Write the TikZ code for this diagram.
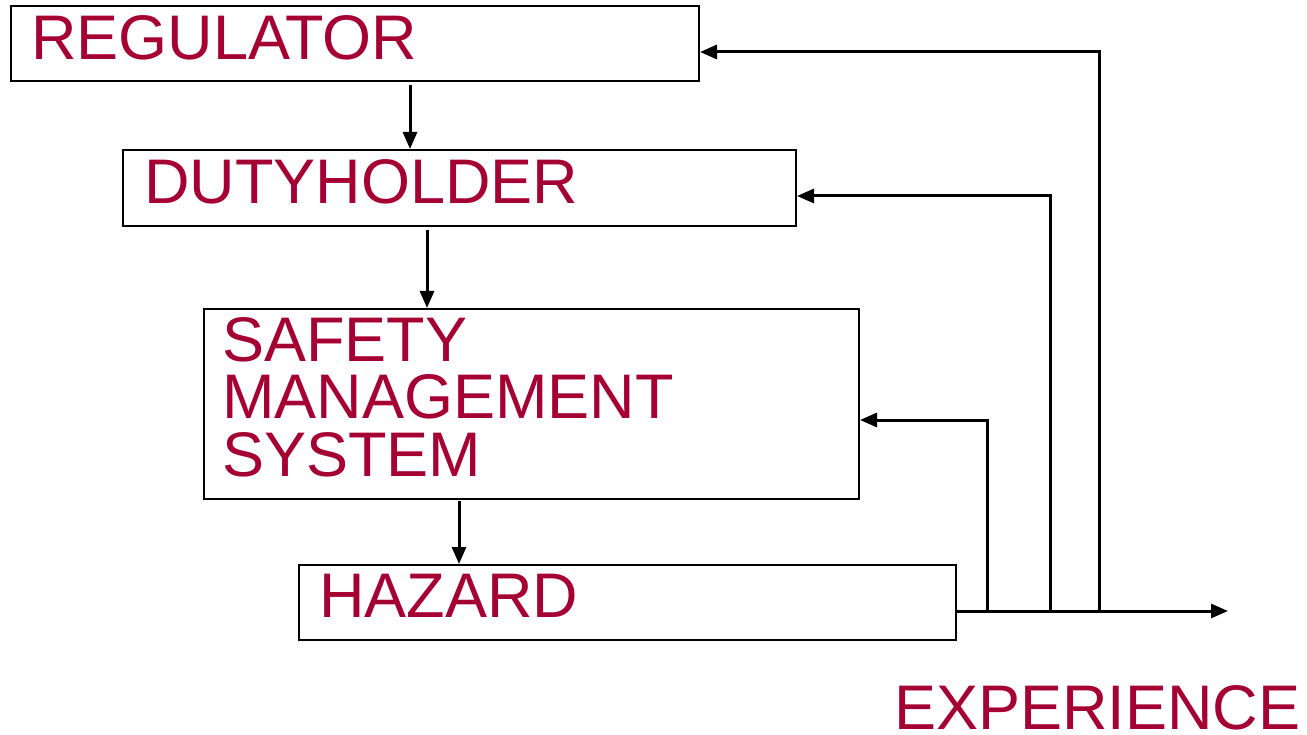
\documentclass[tikz,border=0pt]{standalone}
\usepackage{fontspec}
\setmainfont{Liberation Sans}
\usepackage{tikz}
\usetikzlibrary{arrows.meta}
\definecolor{hsered}{RGB}{165,0,52}
\tikzset{
  box/.style={draw, line width=2pt, inner sep=0, anchor=north west},
  lbl/.style={text=hsered, font=\fontsize{63}{57.5}\selectfont, inner sep=0, anchor=base west, align=left},
  arr/.style={line width=3pt, -{Triangle[length=17pt,width=14pt]}},
  fb/.style={line width=3pt}
}
\begin{document}
\begin{tikzpicture}[x=1pt, y=-1pt]
			\useasboundingbox (0,0) rectangle (1307,735);
			% Boxes and labels:
			\node[box, minimum width=688pt, minimum height=75pt] (reg) at (10,5) {};
			\node[lbl] (regtxt) at (31,60) {REGULATOR};
			\node[box, minimum width=673pt, minimum height=76pt] (duty) at (122,149) {};
			\node[lbl] (dutytxt) at (144,204) {DUTYHOLDER};
			\node[box, minimum width=655pt, minimum height=190pt] (sms) at (203,308) {};
			\node[lbl, anchor=north west] (smstxt) at (222,317) {SAFETY\\MANAGEMENT\\SYSTEM};
			\node[box, minimum width=657pt, minimum height=75pt] (haz) at (298,564) {};
			\node[lbl] (haztxt) at (319,617) {HAZARD};
			\node[lbl] (exptxt) at (894,729) {EXPERIENCE};
			% Downward arrows:
			\coordinate (d1) at (410,85);
			\coordinate (d2) at (427,230);
			\coordinate (d3) at (459,501);
			\draw[arr] (d1) -- (d1 |- duty.north);
			\draw[arr] (d2) -- (d2 |- sms.north);
			\draw[arr] (d3) -- (d3 |- haz.north);
			% Experience feedback:
			\coordinate (hz) at (955,611);
			\coordinate (out) at (1228,611);
			\coordinate (k1) at (987,420);
			\coordinate (k2) at (1050,196);
			\coordinate (k3) at (1099,52);
			\draw[arr] (hz) -- (out);
			\draw[arr] (k1 |- hz) -- (k1) -- (k1 -| sms.east);
			\draw[arr] (k2 |- hz) -- (k2) -- (k2 -| duty.east);
			\draw[arr] (k3 |- hz) -- (k3) -- (k3 -| reg.east);
		\end{tikzpicture}
\end{document}
